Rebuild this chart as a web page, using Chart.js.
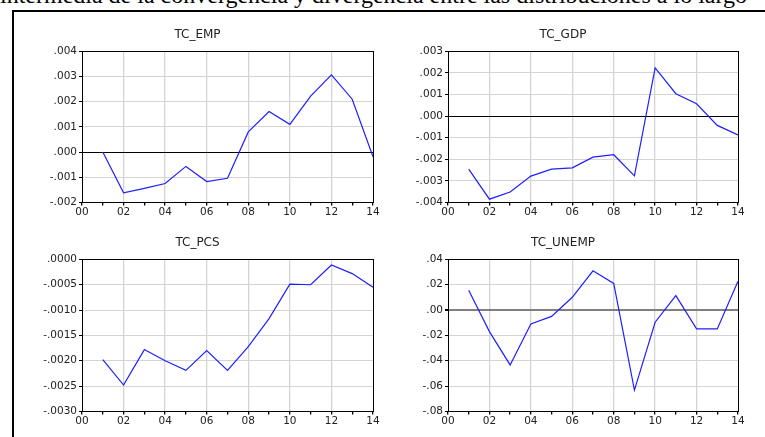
<!DOCTYPE html>
<html>
<head>
<meta charset="utf-8">
<script src="https://cdn.jsdelivr.net/npm/chart.js@4"></script>
<style>
  html, body { margin: 0; padding: 0; background: #fff; }
  body { width: 765px; height: 437px; overflow: hidden; position: relative; }
  #caption {
    position: absolute; left: 0px; top: -17px; white-space: nowrap;
    font-family: "Liberation Serif", serif; font-size: 24px; line-height: 24px; color: #000;
  }
  #frame {
    position: absolute; left: 12px; top: 10px; width: 900px; height: 600px;
    border: 2px solid #000; box-sizing: border-box;
  }
  canvas { position: absolute; }
</style>
</head>
<body>
<div id="caption">intermedia de la convergencia y divergencia entre las distribuciones a lo largo</div>
<div id="frame"></div>
<canvas id="emp" width="359" height="200" style="left:22px;top:22px"></canvas>
<canvas id="gdp" width="358" height="200" style="left:388px;top:22px"></canvas>
<canvas id="pcs" width="359" height="201" style="left:22px;top:230px"></canvas>
<canvas id="unemp" width="358" height="201" style="left:388px;top:230px"></canvas>
<script>
// years 2001..2014, axis runs 00..14
var years = [1, 2, 3, 4, 5, 6, 7, 8, 9, 10, 11, 12, 13, 14];

var tcEmp = [0.0000, -0.00162, -0.00144, -0.00125, -0.00057, -0.00117, -0.00104, 0.00080, 0.00161, 0.00110, 0.00222, 0.00307, 0.00210, -0.00019];
var tcGdp = [-0.00246, -0.00385, -0.00352, -0.00278, -0.00246, -0.00240, -0.00190, -0.00179, -0.00277, 0.00224, 0.00104, 0.00057, -0.00043, -0.00087];
var tcPcs = [-0.00198, -0.00248, -0.00178, -0.00200, -0.00219, -0.00180, -0.00219, -0.00172, -0.00117, -0.00049, -0.00050, -0.00011, -0.00028, -0.00055];
var tcUnemp = [0.0157, -0.0170, -0.0433, -0.0109, -0.0050, 0.0101, 0.0310, 0.0210, -0.0632, -0.0096, 0.0114, -0.0149, -0.0149, 0.0228];

var FONT = 'DejaVu Sans';

// EViews style labels: ".004", "-.001"
function fmt(v, d) {
  var s = Math.abs(v).toFixed(d).replace(/^0/, '');
  return (v < -1e-12 ? '-' : '') + s;
}

// box around the plot area
var framePlugin = {
  id: 'frame',
  afterDraw: function(chart) {
    var a = chart.chartArea, c = chart.ctx;
    c.save();
    c.strokeStyle = '#000';
    c.lineWidth = 1;
    c.strokeRect(Math.round(a.left) + 0.5, Math.round(a.top) + 0.5,
      Math.round(a.right - a.left), Math.round(a.bottom - a.top));
    c.restore();
  }
};

function makeChart(id, title, values, yMin, yMax, yStep, dec, zeroColor, zeroWidth) {
  var pts = years.map(function(y, i) { return { x: y, y: values[i] }; });
  new Chart(document.getElementById(id), {
    type: 'line',
    data: {
      datasets: [{
        data: pts,
        borderColor: '#1f1fff',
        borderWidth: 1.2,
        pointRadius: 0,
        tension: 0,
        fill: false
      }]
    },
    options: {
      responsive: false,
      animation: false,
      layout: { padding: { left: 0, right: 8, top: 0, bottom: 2 } },
      plugins: {
        legend: { display: false },
        tooltip: { enabled: false },
        title: {
          display: true,
          text: title,
          color: '#222',
          font: { family: FONT, size: 12, weight: 'normal' },
          padding: { top: 6, bottom: 9 }
        }
      },
      scales: {
        x: {
          type: 'linear',
          min: 0,
          max: 14,
          border: { color: '#000' },
          grid: {
            color: function(ctx) {
              var v = ctx.tick && ctx.tick.value;
              return (v % 2 === 0 && v > 0 && v < 14) ? '#d4d4d4' : 'rgba(0,0,0,0)';
            },
            lineWidth: 1.3,
            tickColor: '#000',
            tickLength: 3
          },
          ticks: {
            stepSize: 1,
            autoSkip: false,
            maxRotation: 0,
            padding: 1,
            color: '#222',
            font: { family: FONT, size: 10.5 },
            callback: function(v) {
              return v % 2 === 0 ? (v < 10 ? '0' + v : '' + v) : '';
            }
          }
        },
        y: {
          min: yMin,
          max: yMax,
          border: { color: '#000' },
          afterFit: function(scale) { scale.width = 60; },
          grid: {
            color: function(ctx) {
              var v = ctx.tick && ctx.tick.value;
              return Math.abs(v) < 1e-12 ? zeroColor : '#d4d4d4';
            },
            lineWidth: function(ctx) {
              var v = ctx.tick && ctx.tick.value;
              return Math.abs(v) < 1e-12 ? zeroWidth : 1;
            },
            tickColor: '#000',
            tickLength: 3
          },
          ticks: {
            stepSize: yStep,
            padding: 2,
            color: '#222',
            font: { family: FONT, size: 10.5 },
            callback: function(v) { return fmt(v, dec); }
          }
        }
      }
    },
    plugins: [framePlugin]
  });
}

makeChart('emp', 'TC_EMP', tcEmp, -0.002, 0.004, 0.001, 3, '#000', 1);
makeChart('gdp', 'TC_GDP', tcGdp, -0.004, 0.003, 0.001, 3, '#000', 1);
makeChart('pcs', 'TC_PCS', tcPcs, -0.003, 0.0, 0.0005, 4, '#000', 1);
makeChart('unemp', 'TC_UNEMP', tcUnemp, -0.08, 0.04, 0.02, 2, '#808080', 2);
</script>
</body>
</html>
